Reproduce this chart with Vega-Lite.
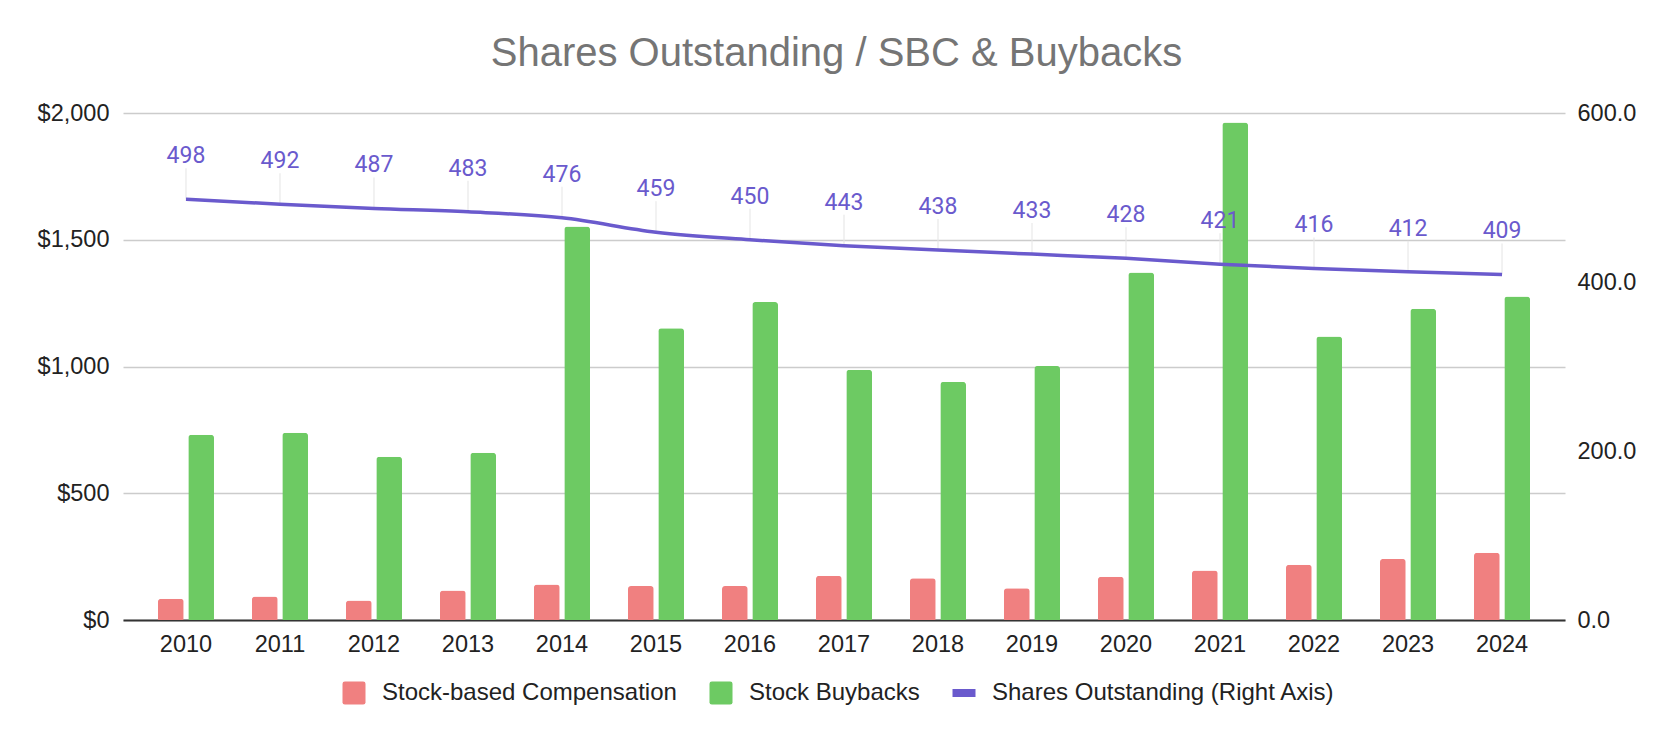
{
  "$schema": "https://vega.github.io/schema/vega-lite/v6.json",
  "autosize": {"type": "none"},
  "padding": {"left": 123, "top": 113, "right": 109, "bottom": 122},
  "width": 1442,
  "height": 507,
  "background": "white",
  "title": {
    "text": "Shares Outstanding / SBC & Buybacks",
    "font": "Liberation Sans",
    "fontSize": 40,
    "fontWeight": "normal",
    "color": "#757575",
    "frame": "bounds",
    "anchor": "middle",
    "offset": 27
  },
  "datasets": {
    "money": [
      {"year": "2010", "series": "Stock-based Compensation", "value": 84},
      {"year": "2011", "series": "Stock-based Compensation", "value": 93},
      {"year": "2012", "series": "Stock-based Compensation", "value": 77},
      {"year": "2013", "series": "Stock-based Compensation", "value": 116},
      {"year": "2014", "series": "Stock-based Compensation", "value": 140},
      {"year": "2015", "series": "Stock-based Compensation", "value": 134},
      {"year": "2016", "series": "Stock-based Compensation", "value": 134},
      {"year": "2017", "series": "Stock-based Compensation", "value": 174},
      {"year": "2018", "series": "Stock-based Compensation", "value": 165},
      {"year": "2019", "series": "Stock-based Compensation", "value": 125},
      {"year": "2020", "series": "Stock-based Compensation", "value": 171},
      {"year": "2021", "series": "Stock-based Compensation", "value": 195},
      {"year": "2022", "series": "Stock-based Compensation", "value": 218},
      {"year": "2023", "series": "Stock-based Compensation", "value": 241},
      {"year": "2024", "series": "Stock-based Compensation", "value": 265},
      {"year": "2010", "series": "Stock Buybacks", "value": 731},
      {"year": "2011", "series": "Stock Buybacks", "value": 739},
      {"year": "2012", "series": "Stock Buybacks", "value": 644},
      {"year": "2013", "series": "Stock Buybacks", "value": 660},
      {"year": "2014", "series": "Stock Buybacks", "value": 1552},
      {"year": "2015", "series": "Stock Buybacks", "value": 1151},
      {"year": "2016", "series": "Stock Buybacks", "value": 1254},
      {"year": "2017", "series": "Stock Buybacks", "value": 987},
      {"year": "2018", "series": "Stock Buybacks", "value": 939},
      {"year": "2019", "series": "Stock Buybacks", "value": 1002},
      {"year": "2020", "series": "Stock Buybacks", "value": 1371},
      {"year": "2021", "series": "Stock Buybacks", "value": 1963},
      {"year": "2022", "series": "Stock Buybacks", "value": 1118},
      {"year": "2023", "series": "Stock Buybacks", "value": 1228},
      {"year": "2024", "series": "Stock Buybacks", "value": 1276}
    ],
    "shares": [
      {"year": "2010", "shares": 498},
      {"year": "2011", "shares": 492},
      {"year": "2012", "shares": 487},
      {"year": "2013", "shares": 483},
      {"year": "2014", "shares": 476},
      {"year": "2015", "shares": 459},
      {"year": "2016", "shares": 450},
      {"year": "2017", "shares": 443},
      {"year": "2018", "shares": 438},
      {"year": "2019", "shares": 433},
      {"year": "2020", "shares": 428},
      {"year": "2021", "shares": 421},
      {"year": "2022", "shares": 416},
      {"year": "2023", "shares": 412},
      {"year": "2024", "shares": 409}
    ]
  },
  "config": {
    "view": {"stroke": null},
    "axis": {"labelFont": "Liberation Sans", "labelFontSize": 23.5, "labelColor": "#222222"}
  },
  "layer": [
    {
      "data": {"name": "money"},
      "mark": {"type": "bar", "cornerRadiusTopLeft": 3, "cornerRadiusTopRight": 3},
      "encoding": {
        "x": {
          "field": "year",
          "type": "nominal",
          "scale": {"paddingInner": 0.404, "paddingOuter": 0.372},
          "axis": {"title": null, "ticks": false, "labelAngle": 0, "labelPadding": 12, "domainColor": "#333333", "domainWidth": 2, "grid": false}
        },
        "xOffset": {
          "field": "series",
          "type": "nominal",
          "sort": ["Stock-based Compensation", "Stock Buybacks"],
          "scale": {"paddingInner": 0.152, "paddingOuter": 0}
        },
        "y": {
          "field": "value",
          "type": "quantitative",
          "scale": {"domain": [0, 2000]},
          "axis": {"title": null, "values": [0, 500, 1000, 1500, 2000], "format": "$,.0f", "ticks": false, "domain": false, "labelPadding": 14, "gridColor": "#cccccc", "gridWidth": 1.5}
        },
        "color": {
          "field": "series",
          "type": "nominal",
          "scale": {
            "domain": ["Stock-based Compensation", "Stock Buybacks", "Shares Outstanding (Right Axis)"],
            "range": ["#f08080", "#6dca63", "#6a5acd"]
          },
          "legend": {
            "title": null,
            "orient": "none",
            "legendX": 219,
            "legendY": 568,
            "padding": 0,
            "direction": "horizontal",
            "symbolSize": 529,
            "symbolStrokeWidth": 0,
            "labelFont": "Liberation Sans",
            "labelFontSize": 24,
            "labelColor": "#222222",
            "labelOffset": 16,
            "labelLimit": 0,
            "columnPadding": 32,
            "encode": {
              "symbols": {
                "update": {
                  "shape": {"signal": "datum.value === 'Shares Outstanding (Right Axis)' ? 'M-1,-0.35H1V0.35H-1Z' : 'M-0.8,-1H0.8Q1,-1 1,-0.8V0.8Q1,1 0.8,1H-0.8Q-1,1 -1,0.8V-0.8Q-1,-1 -0.8,-1Z'"},
                  "fill": {"scale": "color", "field": "value"},
                  "opacity": {"value": 1}
                }
              }
            }
          }
        }
      }
    },
    {
      "data": {"name": "shares"},
      "encoding": {
        "x": {"field": "year", "type": "nominal"},
        "y": {
          "field": "shares",
          "type": "quantitative",
          "scale": {"domain": [0, 600]},
          "axis": {"orient": "right", "title": null, "values": [0, 200, 400, 600], "format": ".1f", "grid": false, "ticks": false, "domain": false, "labelPadding": 12}
        }
      },
      "layer": [
        {
          "mark": {"type": "tick", "orient": "vertical", "size": 31, "thickness": 1.5, "yOffset": -15.5, "color": "#e6e6e6"}
        },
        {
          "mark": {"type": "line", "strokeWidth": 3.5, "interpolate": "monotone"},
          "encoding": {"color": {"datum": "Shares Outstanding (Right Axis)"}}
        },
        {
          "mark": {"type": "text", "font": "Roboto", "fontSize": 23, "color": "#6a5acd", "baseline": "alphabetic", "dy": -36},
          "encoding": {"text": {"field": "shares", "type": "quantitative"}}
        }
      ]
    }
  ],
  "resolve": {"scale": {"y": "independent"}}
}
